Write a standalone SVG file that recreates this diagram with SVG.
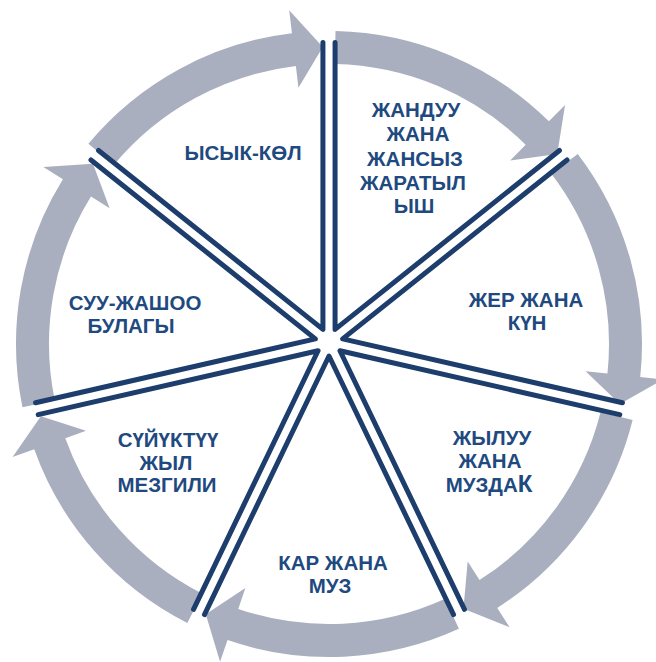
<svg xmlns="http://www.w3.org/2000/svg" xmlns:xlink="http://www.w3.org/1999/xlink" width="656" height="662" viewBox="0 0 656 662">
<style>
.arrow{fill:#A9AFBE}
.edge{fill:none;stroke:#1D3D6D;stroke-width:5;stroke-linecap:round;stroke-linejoin:round}
.lbl{font-family:"Liberation Sans",Arial,sans-serif;font-weight:bold;font-size:20.5px;fill:#1F4A80;text-anchor:middle}
</style>
<defs>
<path id="arr" class="arrow" d="M335.55,31.07 A313,313 0 0 1 548.89,121.25 L565.05,104.88 L557.28,154.00 L510.25,160.39 L525.70,144.73 A280,280 0 0 0 334.86,64.06 Z"/>
</defs>
<rect width="656" height="662" fill="#ffffff"/>
<g id="cycle-arrows">
<use xlink:href="#arr" href="#arr"/>
<use xlink:href="#arr" href="#arr" transform="rotate(51.4286 329 344)"/>
<use xlink:href="#arr" href="#arr" transform="rotate(102.8571 329 344)"/>
<use xlink:href="#arr" href="#arr" transform="rotate(154.2857 329 344)"/>
<use xlink:href="#arr" href="#arr" transform="rotate(205.7143 329 344)"/>
<use xlink:href="#arr" href="#arr" transform="rotate(257.1429 329 344)"/>
<use xlink:href="#arr" href="#arr" transform="rotate(308.5714 329 344)"/>
</g>
<g id="w1">
<path class="edge" d="M335.07,42.39 L335.07,329.39 L559.46,150.45"/>
<text class="lbl"><tspan x="416" y="117">ЖАНДУУ</tspan><tspan x="418" y="141">ЖАНА</tspan><tspan x="415" y="166">ЖАНСЫЗ</tspan><tspan x="413" y="190">ЖАРАТЫЛ</tspan><tspan x="414" y="213">ЫШ</tspan></text>
</g>
<g id="w2">
<path class="edge" d="M567.04,159.94 L342.65,338.88 L622.45,402.74"/>
<text class="lbl"><tspan x="526" y="307">ЖЕР ЖАНА</tspan><tspan x="527" y="330">КҮН</tspan></text>
</g>
<g id="w3">
<path class="edge" d="M619.75,414.59 L339.95,350.73 L464.47,609.31"/>
<text class="lbl"><tspan x="492" y="445">ЖЫЛУУ</tspan><tspan x="490" y="468">ЖАНА</tspan><tspan x="489" y="492">МУЗДА<tspan style="font-size:24px">К</tspan></tspan></text>
</g>
<g id="w4">
<path class="edge" d="M453.52,614.58 L329,356 L204.48,614.58"/>
<text class="lbl"><tspan x="333" y="570">КАР ЖАНА</tspan><tspan x="330" y="593">МУЗ</tspan></text>
</g>
<g id="w5">
<path class="edge" d="M193.53,609.31 L318.05,350.73 L38.25,414.59"/>
<text class="lbl"><tspan x="168" y="447">СҮЙҮКТҮҮ</tspan><tspan x="166" y="470">ЖЫЛ</tspan><tspan x="167" y="492">МЕЗГИЛИ</tspan></text>
</g>
<g id="w6">
<path class="edge" d="M35.55,402.74 L315.35,338.88 L90.96,159.94"/>
<text class="lbl"><tspan x="135" y="310">СУУ-ЖАШОО</tspan><tspan x="131" y="333">БУЛАГЫ</tspan></text>
</g>
<g id="w7">
<path class="edge" d="M98.54,150.45 L322.93,329.39 L322.93,42.39"/>
<text class="lbl"><tspan x="243" y="160">ЫСЫК-КӨЛ</tspan></text>
</g>
</svg>
